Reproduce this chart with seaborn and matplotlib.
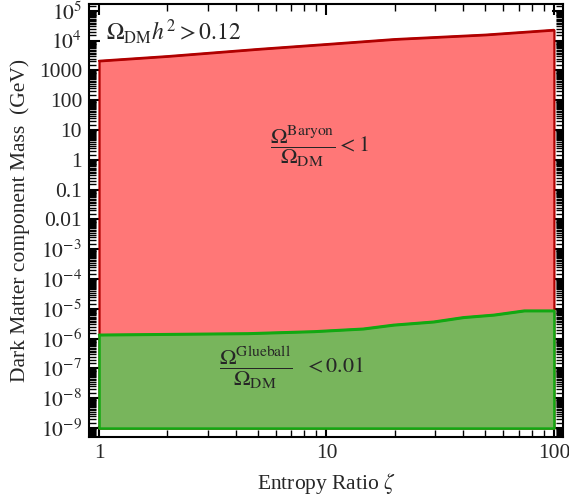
import numpy as np
import matplotlib
matplotlib.use('Agg')
import matplotlib.pyplot as plt
import matplotlib.ticker as mticker
import seaborn as sns

# Data
zeta_red = [1, 2, 5, 10, 20, 50, 100]
mass_red_top = [2100, 3000, 5200, 7600, 11200, 15800, 22900]
zeta_green = [1, 4.5, 8.8, 14.5, 19.7, 29.6, 40, 54.5, 74, 100]
mass_green_top = [1.35e-6, 1.5e-6, 1.75e-6, 2.15e-6, 2.9e-6, 3.7e-6, 5.2e-6, 6.3e-6, 8.7e-6, 8.7e-6]
mass_floor = 1e-9

sns.set_style('ticks')
plt.rcParams['font.family'] = ['Liberation Serif', 'DejaVu Serif']
plt.rcParams['mathtext.fontset'] = 'stix'

fig = plt.figure(figsize=(5.69, 4.99), dpi=100)
ax = fig.add_axes([0.1564, 0.1242, 0.8331, 0.8678])

# red region (baryon constraint)
ax.fill_between(zeta_red, mass_floor, mass_red_top, facecolor='#ff7777',
                edgecolor='#b00000', linewidth=1.6, zorder=1)
# green region (glueball constraint)
ax.fill_between(zeta_green, mass_floor, mass_green_top, facecolor='#78b55c',
                edgecolor='#12a812', linewidth=1.8, zorder=2)
sns.lineplot(x=zeta_red, y=mass_red_top, color='#b00000', lw=1.6, ax=ax, zorder=3)
sns.lineplot(x=zeta_green, y=mass_green_top, color='#12a812', lw=1.8, ax=ax, zorder=3)

ax.set_xscale('log')
ax.set_yscale('log')
ax.set_xlim(10**-0.044, 10**2.04)
ax.set_ylim(10**-9.3, 10**5.23)


def ylab(v, pos):
    n = int(round(np.log10(v)))
    if 0 <= n <= 3:
        return str(10**n)
    if n == -1:
        return '0.1'
    if n == -2:
        return '0.01'
    return r'$10^{%d}$' % n


ax.yaxis.set_major_locator(mticker.FixedLocator([10.0**k for k in range(-9, 6)]))
ax.yaxis.set_major_formatter(mticker.FuncFormatter(ylab))
ax.yaxis.set_minor_locator(mticker.LogLocator(base=10, subs=np.arange(1.5, 10, 0.5), numticks=100))
ax.yaxis.set_minor_formatter(mticker.NullFormatter())
ax.xaxis.set_major_locator(mticker.FixedLocator([1, 10, 100]))
ax.xaxis.set_major_formatter(mticker.FixedFormatter(['1', '10', '100']))
ax.xaxis.set_minor_locator(mticker.LogLocator(base=10, subs=np.arange(2, 10), numticks=100))
ax.xaxis.set_minor_formatter(mticker.NullFormatter())

ax.tick_params(which='both', direction='in', top=True, right=True, color='black',
               labelsize=15.5, pad=5)
ax.tick_params(which='major', length=8, width=1.5)
ax.tick_params(which='minor', length=5, width=1.0)
for s in ax.spines.values():
    s.set_linewidth(1.5)
    s.set_color('black')

ax.set_xlabel(r'Entropy Ratio $\zeta$', fontsize=15.5, labelpad=6)
ax.set_ylabel('Dark Matter component Mass  (GeV)', fontsize=15.5, labelpad=6)

ax.text(1.07, 10**4.3, r'$\Omega_{\rm DM}h^2 > 0.12$', fontsize=17, va='center', ha='left')
ax.text(9.3, 10**0.45, r'$\dfrac{\Omega^{\rm Baryon}}{\Omega_{\rm DM}} < 1$',
        fontsize=16, va='center', ha='center')
ax.text(7.0, 10**-6.95, r'$\dfrac{\Omega^{\rm Glueball}}{\Omega_{\rm DM}}\ \ < 0.01$',
        fontsize=16, va='center', ha='center')

fig.savefig('out.png', dpi=100)
